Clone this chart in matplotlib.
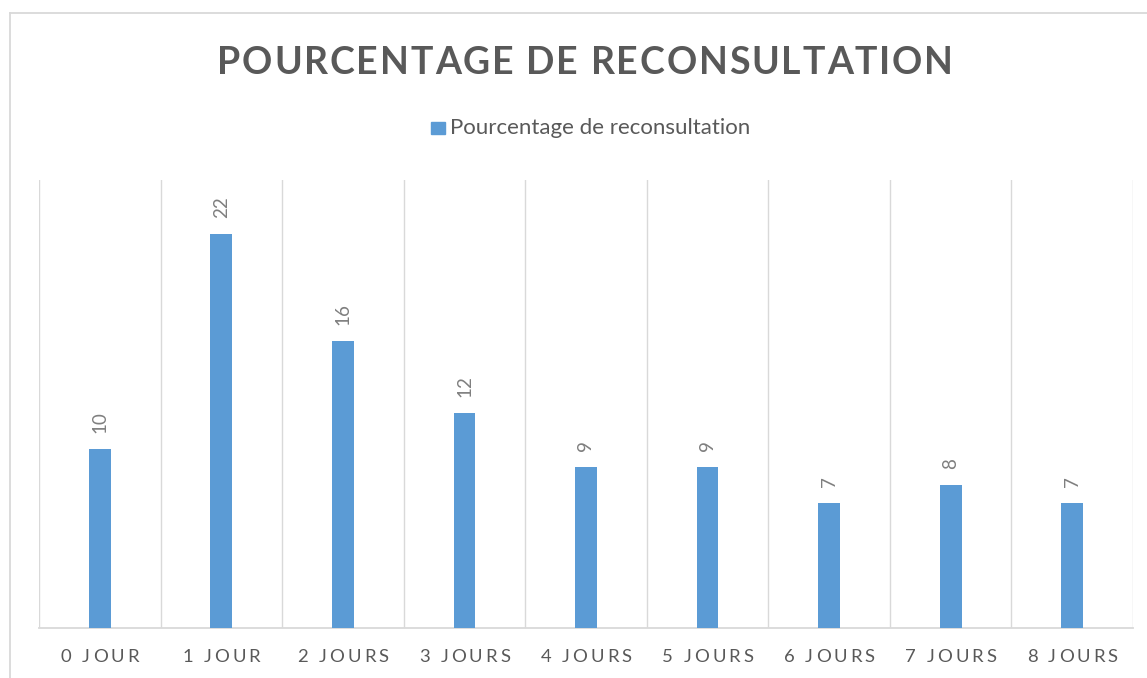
import matplotlib
matplotlib.use("Agg")
import matplotlib.pyplot as plt
from matplotlib.lines import Line2D
from matplotlib.patches import Rectangle
from matplotlib.transforms import IdentityTransform

# données
categories = ["0 JOUR", "1 JOUR", "2 JOURS", "3 JOURS", "4 JOURS",
              "5 JOURS", "6 JOURS", "7 JOURS", "8 JOURS"]
valeurs = [10, 22, 16, 12, 9, 9, 7, 8, 7]
titre = "POURCENTAGE DE RECONSULTATION"
legende = "Pourcentage de reconsultation"

bleu = "#5B9BD5"
gris = "#595959"
grille = "#D9D9D9"
police = "Lato"

W, H = 1147, 678
fig = plt.figure(figsize=(W / 100, H / 100), dpi=100)
ax = fig.add_axes([39 / W, 1 - 628 / H, (1133 - 39) / W, (628 - 180) / H])
renderer = fig.canvas.get_renderer()


def largeur(s, **kw):
    t = fig.text(0, 0, s, transform=IdentityTransform(), **kw)
    w = t.get_window_extent(renderer).width
    t.remove()
    return w


def texte_espace(xc, y, s, track, **kw):
    # texte centré en xc avec espacement des lettres (pixels)
    ref = largeur("I", **kw)
    total = largeur(s, **kw) + track * (len(s) - 1)
    x0 = xc - total / 2
    for i, c in enumerate(s):
        if c == " ":
            continue
        adv = largeur(s[:i] + "I", **kw) - ref if i > 0 else 0
        fig.text(x0 + adv + i * track, y, c, transform=IdentityTransform(),
                 ha="left", va="baseline", **kw)


# barres
x = list(range(len(valeurs)))
ax.bar(x, valeurs, width=0.18, color=bleu, zorder=3)
for xi, v in zip(x, valeurs):
    ax.annotate(str(v), (xi, v), xytext=(0, 16), textcoords="offset pixels",
                rotation=90, ha="center", va="bottom", fontsize=13.5,
                color="#7F7F7F", family=police)

ax.set_xlim(-0.5, len(valeurs) - 0.5)
ax.set_ylim(0, 25)
for g in range(len(valeurs) + 1):
    ax.axvline(g - 0.5, color=grille, lw=1.0, zorder=1)
for s in ["top", "right", "left"]:
    ax.spines[s].set_visible(False)
ax.spines["bottom"].set_color(grille)
ax.spines["bottom"].set_linewidth(1.3)
ax.set_xticks([])
ax.set_yticks([])

# étiquettes de l'axe x
kw_tick = dict(fontsize=13.3, color=gris, family=police)
track_tick = (91 - largeur("2 JOURS", **kw_tick)) / 6
for xi, lab in zip(x, categories):
    xd = ax.transData.transform((xi, 0))[0]
    texte_espace(xd, 16, lab, track_tick, **kw_tick)

# titre
kw_titre = dict(fontsize=27, color=gris, family=police, weight="bold")
track_titre = (736 - largeur(titre, **kw_titre)) / (len(titre) - 1)
texte_espace(585, 604, titre, track_titre, **kw_titre)

# légende
fig.add_artist(Rectangle((431, H - 134), 14, 12, transform=IdentityTransform(),
                         color=bleu))
fig.text(450, H - 134, legende, transform=IdentityTransform(), ha="left",
         va="baseline", fontsize=16, color=gris, family=police)

# cadre
fig.add_artist(Line2D([10 / W, 10 / W], [0, 1 - 13 / H], color=grille, lw=1.3))
fig.add_artist(Line2D([10 / W, 1], [1 - 13 / H, 1 - 13 / H], color=grille, lw=1.3))

fig.savefig("out.png", dpi=100)
